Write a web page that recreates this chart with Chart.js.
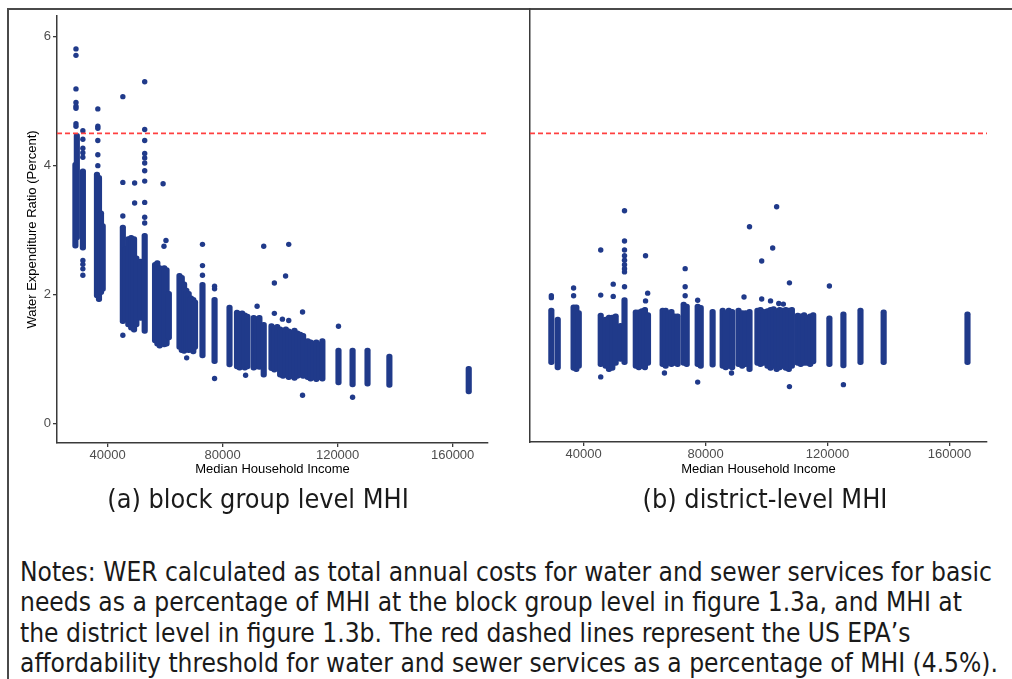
<!DOCTYPE html>
<html>
<head>
<meta charset="utf-8">
<title>Water Expenditure Ratio by Median Household Income</title>
<script src="https://cdn.jsdelivr.net/npm/chart.js@4.4.1/dist/chart.umd.min.js"></script>
<style>
  body {
    margin: 0;
    width: 1012px;
    height: 679px;
    overflow: hidden;
    position: relative;
    background: #fff;
    font-family: "Liberation Sans", Arial, sans-serif;
  }
  #frame {
    position: absolute;
    left: 7px;
    top: 8px;
    width: 1020px;
    height: 690px;
    border-top: 2px solid #4a4a4a;
    border-left: 2px solid #4a4a4a;
  }
  .panel {
    position: absolute;
    top: 0;
  }
  .caption {
    position: absolute;
    top: 484px;
    width: 500px;
    line-height: 30px;
    text-align: center;
    font-family: "Liberation Sans Narrow", "DejaVu Sans Condensed", "Roboto Condensed", Roboto, sans-serif;
    font-size: 26.8px;
    color: #1a1a1a;
  }
  #notes {
    position: absolute;
    left: 20px;
    top: 557px;
    width: 990px;
    font-family: "Liberation Sans Narrow", "DejaVu Sans Condensed", "Roboto Condensed", Roboto, sans-serif;
    font-size: 26.1px;
    line-height: 30.4px;
    color: #1a1a1a;
    white-space: nowrap;
  }
</style>
</head>
<body>
<div id="frame"></div>
<canvas id="blockGroupChart" class="panel" style="left:0px" width="500" height="490"></canvas>
<canvas id="districtChart" class="panel" style="left:500px" width="512" height="490"></canvas>
<div class="caption" style="left:8px">(a) block group level MHI</div>
<div class="caption" style="left:515px">(b) district-level MHI</div>
<div id="notes">
  <div>Notes: WER calculated as total annual costs for water and sewer services for basic</div>
  <div>needs as a percentage of MHI at the block group level in figure 1.3a, and MHI at</div>
  <div>the district level in figure 1.3b. The red dashed lines represent the US EPA’s</div>
  <div>affordability threshold for water and sewer services as a percentage of MHI (4.5%).</div>
</div>
<script>
// EPA affordability threshold (percent of MHI)
const threshold = 4.5;
const incomeRange = [22400, 172300];
const incomeTicks = [40000, 80000, 120000, 160000];
const werTicks = [0, 2, 4, 6];

// (a) block group MHI: dense vertical runs of observations per income value
const stripIncomeA = [28800, 29300, 31400, 36300, 37000, 37700, 38300, 45300, 46300, 47200, 48200, 49200, 50000, 51500, 52900,
  56500, 57300, 58100, 58900, 59700, 60500, 61300, 65000, 65800, 66600, 67400, 68200, 69000, 69800, 70400, 73000, 77200, 82400,
  85000, 85900, 86800, 87700, 88600, 90800, 91800, 92800, 94300, 97000, 98000, 99000, 100000, 101000, 102000, 103000, 104000,
  105000, 106000, 107000, 108000, 109600, 110600, 111600, 112600, 113600, 114700, 120300, 125200, 130400, 138000, 165600];
const stripLowA = [2.72, 2.85, 2.69, 1.95, 1.89, 2.00, 2.05, 1.55, 1.58, 1.50, 1.45, 1.42, 1.50, 1.60, 1.40,
  1.25, 1.20, 1.17, 1.22, 1.19, 1.20, 1.30, 1.15, 1.10, 1.09, 1.12, 1.10, 1.12, 1.08, 1.15, 1.02, 0.93, 0.88,
  0.85, 0.83, 0.86, 0.83, 0.85, 0.83, 0.85, 0.84, 0.72, 0.82, 0.80, 0.82, 0.72, 0.70, 0.72, 0.68, 0.70,
  0.67, 0.70, 0.72, 0.70, 0.68, 0.66, 0.68, 0.65, 0.68, 0.66, 0.60, 0.57, 0.58, 0.56, 0.46];
const stripHighA = [4.05, 4.50, 3.95, 3.90, 3.85, 3.30, 3.10, 3.08, 2.75, 2.90, 2.92, 2.90, 2.60, 2.55, 2.95,
  2.50, 2.53, 2.45, 2.40, 2.45, 2.42, 2.05, 2.33, 2.30, 2.20, 2.10, 2.05, 1.98, 1.96, 1.92, 2.19, 1.96, 1.84,
  1.76, 1.74, 1.75, 1.72, 1.70, 1.68, 1.66, 1.68, 1.57, 1.55, 1.52, 1.54, 1.50, 1.48, 1.50, 1.47, 1.45,
  1.48, 1.44, 1.42, 1.40, 1.32, 1.30, 1.28, 1.30, 1.27, 1.32, 1.17, 1.17, 1.17, 1.08, 0.89];

// (a) scattered individual observations
const pointIncomeA = [29000, 29000, 29000, 29000, 29000, 29000, 29000, 29000, 31400, 31400, 31400, 31400, 31400, 31400, 31400, 31400, 31400,
  36600, 36600, 36600, 36600, 36600, 36600, 45300, 45300, 45300, 45300, 49400, 49400,
  52900, 52900, 52900, 52900, 52900, 52900, 52900, 52900, 52900, 52900, 52900,
  59300, 60300, 59600, 67500, 66500, 73000, 73000, 73000, 77200, 77200, 77200, 88000, 92000, 94300,
  98000, 98000, 101900, 103000, 100800, 103000, 107800, 107800, 120300, 125200];
const pointWerA = [5.81, 5.71, 5.19, 4.98, 4.92, 4.89, 4.65, 4.61, 4.54, 4.41, 4.27, 4.20, 4.13, 2.53, 2.47, 2.40, 2.30,
  4.88, 4.61, 4.58, 4.39, 4.17, 4.00, 5.07, 3.74, 3.22, 1.37, 3.73, 3.42,
  5.30, 4.56, 4.39, 4.19, 4.12, 4.04, 3.92, 3.76, 3.43, 3.20, 3.11,
  3.72, 2.84, 2.75, 1.02, 2.15, 2.78, 2.45, 2.30, 2.13, 2.09, 0.70, 0.75, 1.82, 2.75,
  2.18, 1.71, 2.29, 2.78, 1.62, 1.60, 1.73, 0.44, 1.51, 0.41];

// (b) district MHI
const stripIncomeB = [29400, 31500, 36700, 37600, 38400, 45600, 47200, 48300, 49400, 50500, 52100, 53400, 57100, 58100, 59100,
  60100, 61100, 65900, 66900, 67900, 68800, 69800, 70800, 72800, 73800, 77400, 78400, 82300, 85600, 86600, 87600, 88700,
  90800, 92000, 93100, 94400, 97000, 98000, 99000, 100300, 101300, 102300, 103300, 104300, 105300, 106300, 107300, 108300,
  110200, 111200, 112300, 113300, 114300, 115300, 120600, 125200, 130800, 138400, 165900];
const stripLowB = [0.91, 0.83, 0.82, 0.80, 0.85, 0.88, 0.85, 0.80, 0.82, 0.90, 0.96, 0.91, 0.85, 0.83, 0.85,
  0.83, 0.90, 0.88, 0.85, 0.90, 0.88, 0.90, 0.88, 0.90, 0.88, 0.88, 0.85, 0.87, 0.85, 0.83, 0.85, 0.83,
  0.88, 0.85, 0.88, 0.80, 0.90, 0.88, 0.90, 0.85, 0.82, 0.85, 0.80, 0.83, 0.85, 0.82, 0.80, 0.85,
  0.90, 0.88, 0.90, 0.90, 0.88, 0.92, 0.88, 0.86, 0.91, 0.91, 0.91];
const stripHighB = [1.79, 1.65, 1.84, 1.84, 1.75, 1.71, 1.65, 1.68, 1.68, 1.70, 1.55, 1.95, 1.76, 1.76, 1.78,
  1.80, 1.72, 1.79, 1.79, 1.75, 1.77, 1.70, 1.70, 1.88, 1.85, 1.85, 1.83, 1.77, 1.79, 1.75, 1.79, 1.77,
  1.79, 1.75, 1.75, 1.77, 1.79, 1.80, 1.77, 1.78, 1.80, 1.81, 1.78, 1.80, 1.79, 1.80, 1.79, 1.80,
  1.71, 1.70, 1.72, 1.68, 1.70, 1.72, 1.67, 1.73, 1.79, 1.76, 1.73];

const pointIncomeB = [29400, 29400, 36700, 36700, 45600, 45600, 45600, 49700, 49700,
  53400, 53400, 53400, 53400, 53400, 53400, 53400, 53400, 53400,
  60300, 61000, 60300, 66500, 73300, 73300, 73300, 77400, 77400, 88500, 92600, 94400,
  98400, 98400, 102000, 103300, 107500, 107500, 101300, 104000, 105500, 120600, 125200];
const pointWerB = [1.98, 1.95, 2.10, 1.98, 2.69, 1.99, 0.72, 2.16, 1.97,
  3.30, 2.83, 2.69, 2.60, 2.53, 2.46, 2.40, 2.35, 2.12,
  2.60, 2.02, 1.90, 0.78, 2.40, 2.12, 1.98, 1.91, 0.64, 0.78, 1.96, 3.05,
  2.52, 1.93, 2.72, 3.36, 2.18, 0.57, 1.90, 1.86, 1.85, 2.13, 0.60];

const DOT_COLOR = "#203a8a";
const AXIS_COLOR = "#3a3a3a";
const TICK_FONT = { family: "'Liberation Sans', Arial, sans-serif", size: 13 };
const TITLE_FONT = { family: "'Liberation Sans', Arial, sans-serif", size: 13 };

function buildPanel(canvasId, cfg) {
  const strips = cfg.stripIncome.map((x, i) => ({ x: x, y: [cfg.stripLow[i], cfg.stripHigh[i]] }));
  const points = cfg.pointIncome.map((x, i) => ({ x: x, y: cfg.pointWer[i] }));
  const thresholdLine = incomeRange.map((x) => ({ x: x, y: threshold }));

  return new Chart(document.getElementById(canvasId).getContext("2d"), {
    type: "scatter",
    data: {
      datasets: [
        {
          type: "line",
          label: "EPA threshold",
          data: thresholdLine,
          borderColor: "#ff4040",
          borderWidth: 1.6,
          borderDash: [5, 3],
          pointRadius: 0,
          fill: false,
        },
        {
          label: "WER",
          data: points,
          backgroundColor: DOT_COLOR,
          borderWidth: 0,
          pointRadius: 2.7,
        },
        {
          type: "bar",
          label: "WER runs",
          data: strips,
          backgroundColor: DOT_COLOR,
          barThickness: 5.5,
          borderRadius: 2.75,
          borderSkipped: false,
          grouped: false,
        },
      ],
    },
    options: {
      responsive: false,
      animation: false,
      layout: { padding: cfg.padding },
      plugins: {
        legend: { display: false },
        tooltip: { enabled: false },
      },
      scales: {
        x: {
          type: "linear",
          min: incomeRange[0],
          max: incomeRange[1],
          offset: false,
          afterBuildTicks: (scale) => {
            scale.ticks = incomeTicks.map((v) => ({ value: v }));
          },
          afterFit: (scale) => {
            scale.height = cfg.xHeight;
          },
          grid: {
            display: true,
            offset: false,
            drawOnChartArea: false,
            drawTicks: true,
            tickLength: 4,
            color: AXIS_COLOR,
            lineWidth: 1.3,
          },
          border: { display: true, color: AXIS_COLOR, width: 1.5 },
          ticks: {
            font: TICK_FONT,
            color: "#4d4d4d",
            padding: 1,
            maxRotation: 0,
            callback: (v) => String(v),
          },
          title: {
            display: true,
            text: "Median Household Income",
            font: TITLE_FONT,
            color: "#000",
            padding: { top: 0, bottom: 13 },
          },
        },
        y: {
          type: "linear",
          min: cfg.yMin,
          max: cfg.yMax,
          afterBuildTicks: (scale) => {
            scale.ticks = werTicks.map((v) => ({ value: v }));
          },
          afterFit: (scale) => {
            scale.width = cfg.yWidth;
          },
          grid: cfg.showY
            ? { display: true, drawOnChartArea: false, drawTicks: true, tickLength: 4, color: AXIS_COLOR, lineWidth: 1.3 }
            : { display: false },
          border: { display: true, color: AXIS_COLOR, width: 1.5 },
          ticks: {
            display: cfg.showY,
            font: TICK_FONT,
            color: "#4d4d4d",
            padding: 2,
          },
          title: {
            display: cfg.showY,
            text: "Water Expenditure Ratio (Percent)",
            font: TITLE_FONT,
            color: "#000",
            padding: { top: 25, bottom: 0 },
          },
        },
      },
    },
  });
}

buildPanel("blockGroupChart", {
  stripIncome: stripIncomeA,
  stripLow: stripLowA,
  stripHigh: stripHighA,
  pointIncome: pointIncomeA,
  pointWer: pointWerA,
  padding: { top: 16, right: 12, left: 0, bottom: 0 },
  xHeight: 47,
  yWidth: 57,
  yMin: -0.3,
  yMax: 6.32,
  showY: true,
});

buildPanel("districtChart", {
  stripIncome: stripIncomeB,
  stripLow: stripLowB,
  stripHigh: stripHighB,
  pointIncome: pointIncomeB,
  pointWer: pointWerB,
  padding: { top: 9, right: 25, left: 0, bottom: 0 },
  xHeight: 48,
  yWidth: 30,
  yMin: -0.29,
  yMax: 6.43,
  showY: false,
});
</script>
</body>
</html>
